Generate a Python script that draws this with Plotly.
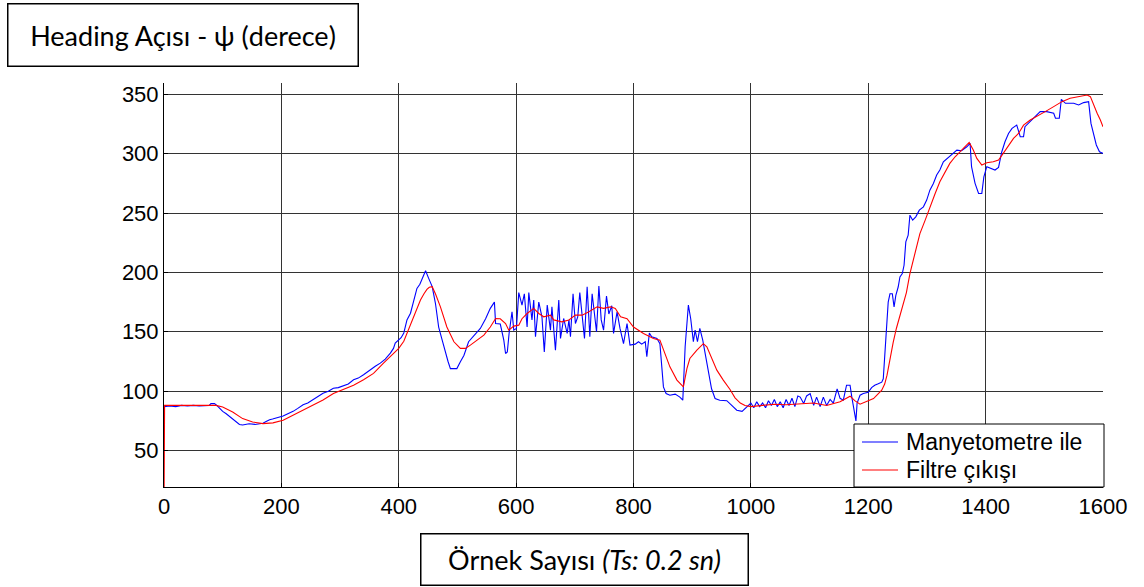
import plotly.graph_objects as go

# Magnetometer heading samples (sample index, degrees)
mag_x = [0, 10, 20, 30, 40, 50, 60, 70, 77, 80, 86, 90, 94, 100, 106, 111, 117, 123, 128.6, 134, 145, 155, 168.6, 174, 180,
         185, 191, 197, 203, 211, 220, 228, 237, 245, 254, 262, 271, 280, 288.6, 297, 305.7, 314, 323, 331, 340, 346,
         351, 360, 368.6, 377, 385.7, 391, 394, 400, 404, 408.6, 414, 420, 425.7, 431, 436, 440, 445.7, 451, 457,
         462.5, 468, 474, 479.5, 484, 488, 493, 499, 505, 511, 519, 528, 539, 548, 556, 563, 565, 573, 579, 582, 585,
         588, 593, 596, 600.5, 604.5, 610, 614, 618.7, 621.6, 627, 630, 633, 638.6, 644, 648, 653, 658.5, 661, 667,
         672.7, 675.6, 681, 687, 690, 692.6, 697, 701, 705, 708.5, 712.5, 716.5, 721, 725.6, 729.5, 733.5, 737, 741,
         745, 749, 754, 758, 763, 766, 772, 777, 783, 789, 794, 803, 808.5, 814, 820, 822.7, 827, 831, 840, 845, 851,
         855.5, 862, 871, 879, 884, 888, 893.5, 897.5, 902, 905, 909, 913, 918, 923.5, 929, 933, 939, 947, 959, 968,
         976, 985, 992, 1000, 1005, 1010, 1015, 1020, 1025, 1030, 1035, 1040, 1045, 1050, 1055, 1060, 1065, 1070,
         1075, 1080, 1084, 1090, 1095, 1101, 1107, 1112, 1118, 1123.5, 1129, 1135, 1140.5, 1147, 1152, 1157.5, 1163,
         1169, 1172, 1175.6, 1179, 1181, 1186, 1191.5, 1200, 1205.7, 1211, 1217, 1223, 1225.6, 1228, 1231, 1234, 1237,
         1241, 1244, 1247, 1251, 1254, 1258, 1261, 1264, 1268, 1271, 1275.7, 1281, 1287, 1294, 1299.6, 1305, 1311,
         1316.6, 1322, 1328, 1335, 1342, 1351, 1359, 1368, 1373.5, 1376, 1382, 1388, 1393.5, 1397, 1402, 1410.5, 1416,
         1422, 1427.6, 1433, 1439, 1445, 1453, 1459, 1464.6, 1467, 1476, 1484.5, 1493, 1504, 1516, 1519, 1525.5, 1529,
         1536, 1550, 1558.5, 1567, 1575.5, 1579.5, 1584, 1588.6, 1594, 1600]
mag_y = [87, 87.5, 87, 88, 87.5, 88, 87.5, 88, 88, 89.5, 89.5, 88, 86, 83, 81, 79, 77, 75, 72, 71.5, 72.5, 72, 73, 74.5,
         76, 76.5, 77.5, 78, 79, 81, 83, 85.5, 88.5, 90, 92.7, 95, 98.3, 100, 102.5, 103, 104.5, 106, 109.6, 111, 113.8,
         116, 118, 121, 123.6, 127, 132, 136, 140.5, 143, 145, 149, 160, 165.6, 176.8, 186.5, 190, 195, 201.4, 195, 188,
         174, 154, 143, 131.7, 125, 119, 119, 119, 124.7, 130, 141.6, 147, 152.8, 161, 169.7, 175, 157, 156.5, 143,
         131.7, 133, 148.6, 166.9, 151.4, 152.8, 183, 172.5, 182, 154, 183, 160, 176.7, 145.8, 175, 162.6, 133, 172.5,
         151.4, 171, 134.5, 176.7, 144.4, 161.2, 148.6, 160, 145.8, 182, 157, 162.6, 183, 161.2, 144.4, 188, 145.8, 182,
         162.6, 150, 188.5, 160, 151.4, 180, 165, 172, 148.6, 166.8, 152.8, 140, 157, 138.8, 139.6, 141.6, 139.6, 141.6,
         129, 149, 145.8, 144.4, 140, 103.6, 98, 96.6, 97.5, 95, 92.4, 137.4, 172.5, 161, 141.6, 151.4, 141.6, 152.8,
         143, 129, 112, 102, 93.8, 92.4, 92, 88, 84, 83, 86, 90, 86, 91, 87, 90, 86, 92, 88, 93, 87, 91, 86, 93, 88,
         94, 87, 96, 95, 89.6, 96, 98, 88, 95, 87, 95, 88, 93, 90, 102, 94, 92.4, 105, 105, 95, 84, 75, 90, 96.6, 98,
         99, 103, 105, 106.2, 107.6, 110.4, 127.3, 148.4, 175, 182, 182, 171, 180.7, 187.7, 196.2, 199, 206, 225.7,
         231.3, 248.2, 244, 246.8, 252.4, 255.2, 260.9, 269.3, 274.9, 282, 286.2, 293.2, 296, 298.8, 303, 302.5, 305.8,
         308.7, 289, 275, 266.5, 266.5, 280.5, 289, 287.6, 286.2, 288.4, 301.6, 310, 317, 321.3, 324, 314.3, 314.3,
         322.7, 327, 331, 335.4, 335.4, 334, 329.8, 329.8, 345.8, 342.4, 342.4, 341, 343, 343.8, 325.5, 317, 307.3,
         301.6, 300.2]

# Filter output (sample index, degrees)
flt_x = [0, 1, 20, 50, 88.6, 100, 117, 134, 151, 168.6, 185.7, 203, 220, 237, 254, 271, 288.6, 305.7, 323, 340, 357,
         374, 391, 400, 408.6, 414, 420, 425.6, 431, 437, 443, 448, 452, 457, 462.5, 471, 482, 494, 505, 513.6, 522,
         533.5, 545, 556, 565, 573, 582, 587.5, 596, 604.5, 610, 618.7, 630, 638.6, 647, 658.5, 664, 678, 690, 701,
         712.5, 724, 738, 749, 761, 769, 778, 789, 800, 817, 834, 845, 854, 862, 874, 885, 891, 896, 908, 919, 925,
         933, 942, 953, 964.5, 973, 982, 990, 1000, 1020, 1040, 1060, 1084, 1107, 1129, 1152, 1169, 1177, 1186, 1197,
         1209, 1223, 1228, 1232, 1237, 1242.5, 1248, 1254, 1259.5, 1265, 1271, 1280, 1288, 1297, 1305, 1314, 1322,
         1331, 1339, 1348, 1356.5, 1365, 1372, 1379, 1385, 1393.5, 1402, 1413, 1422, 1430, 1439, 1447.5, 1456, 1464.6,
         1476, 1487, 1501.5, 1516, 1530, 1544, 1561, 1573, 1578.5, 1584, 1590, 1595.5, 1600]
flt_y = [0, 88, 88, 88, 88, 86.7, 82.5, 76.9, 74, 72.7, 73.3, 75.5, 79.7, 84, 88, 92.5, 98, 101.5, 105, 109.6, 115,
         123.6, 132, 136, 142, 148.6, 155, 162.6, 169, 176.7, 182, 185.7, 187.5, 188, 182, 171, 154, 141.6, 136, 136,
         138.8, 143, 147.2, 154, 161.2, 161, 157, 151.4, 154.8, 155.6, 161, 165.4, 169.7, 165.4, 162.6, 164, 160,
         158.4, 160, 164, 164, 166.9, 171, 169.7, 171, 169.7, 162.6, 161, 154, 148.6, 144.4, 143, 130.3, 120.5, 109.3,
         103.6, 119, 127.5, 134.6, 140, 137.4, 127.5, 117.7, 109.3, 101.4, 94.4, 90, 88, 87, 88, 89, 88.5, 89, 90, 88,
         91, 95.8, 92, 89, 91, 93.8, 100.8, 106, 113.5, 128, 141, 153, 164, 174, 183, 199, 215.9, 232.7, 244, 255.2,
         266.5, 276.3, 284.8, 291.8, 297.4, 301.6, 305.8, 309.5, 303, 296, 290.4, 292.4, 293.2, 294.6, 300.2, 307.3,
         312.9, 317, 324, 328.3, 331.2, 335.4, 339.6, 343.8, 346.6, 348.6, 349.4, 348, 341, 334, 328.3, 322.7]

x_ticks = [0, 200, 400, 600, 800, 1000, 1200, 1400, 1600]
y_ticks = [50, 100, 150, 200, 250, 300, 350]

series_names = ["Manyetometre ile", "Filtre çıkışı"]
series_colors = ["#0000ff", "#ff0000"]

W, H = 1144, 587
L, R, T, B = 164, 41, 83, 100
PW, PH = W - L - R, H - T - B


def px_x(px):
    return (px - L) / PW


def px_y(py):
    return (H - B - py) / PH


sans = "Liberation Sans, Arial, sans-serif"
tick_font = dict(family=sans, size=22, color="black")
grid_col = "#333333"

fig = go.Figure()
fig.add_trace(go.Scatter(x=mag_x, y=mag_y, mode="lines", name=series_names[0],
                         line=dict(color=series_colors[0], width=1.1)))
fig.add_trace(go.Scatter(x=flt_x, y=flt_y, mode="lines", name=series_names[1],
                         line=dict(color=series_colors[1], width=1.1)))

fig.update_layout(
    width=W, height=H,
    margin=dict(l=L, r=R, t=T, b=B, pad=0),
    paper_bgcolor="white", plot_bgcolor="white",
    showlegend=False,
    xaxis=dict(range=[0, 1600], tickvals=x_ticks, showgrid=True, gridcolor=grid_col, gridwidth=1,
               showline=True, linecolor="black", linewidth=1, zeroline=False,
               ticks="inside", ticklen=4, tickcolor="black", tickfont=tick_font),
    yaxis=dict(range=[19.3, 359.5], tickvals=y_ticks, showgrid=True, gridcolor=grid_col, gridwidth=1,
               showline=True, linecolor="black", linewidth=1, zeroline=False,
               ticks="inside", ticklen=4, tickcolor="black", tickfont=tick_font),
)

# Legend box in the lower-right corner of the axes
fig.add_shape(type="rect", xref="paper", yref="paper",
              x0=px_x(854), x1=px_x(1104), y0=px_y(487), y1=px_y(424),
              line=dict(color="black", width=1), fillcolor="white", layer="above")
for i, (name, col) in enumerate(zip(series_names, series_colors)):
    row_y = 442 + 28 * i
    fig.add_shape(type="line", xref="paper", yref="paper",
                  x0=px_x(862), x1=px_x(898), y0=px_y(row_y), y1=px_y(row_y),
                  line=dict(color=col, width=1.1), layer="above")
    fig.add_annotation(text=name, xref="paper", yref="paper",
                       x=px_x(904), y=px_y(row_y), xanchor="left", yanchor="middle",
                       showarrow=False, font=dict(family=sans, size=23, color="black"))

box_font = dict(family="Lato, Open Sans, sans-serif", size=27, color="black")
fig.add_annotation(text="Heading Açısı - ψ (derece)", xref="paper", yref="paper",
                   x=px_x(183), y=px_y(35), xanchor="center", yanchor="middle",
                   width=349, height=61, showarrow=False, font=box_font,
                   bordercolor="black", borderwidth=1.5, borderpad=0, bgcolor="white")
fig.add_annotation(text="Örnek Sayısı <i>(Ts: 0.2 sn)</i>", xref="paper", yref="paper",
                   x=px_x(584.5), y=px_y(559), xanchor="center", yanchor="middle",
                   width=326, height=50, showarrow=False, font=box_font,
                   bordercolor="black", borderwidth=1.5, borderpad=0, bgcolor="white")

fig.write_html("out.html")
